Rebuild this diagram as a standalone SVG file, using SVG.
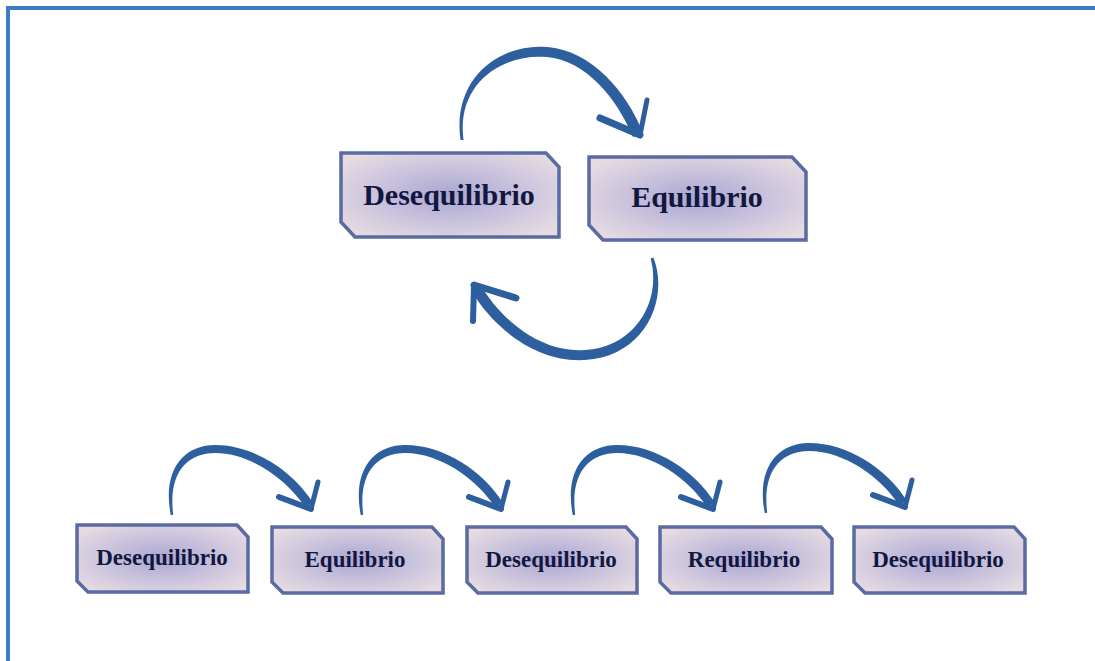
<svg xmlns="http://www.w3.org/2000/svg" xmlns:xlink="http://www.w3.org/1999/xlink" width="1095" height="661" viewBox="0 0 1095 661">
<style>
.box{stroke:#5a6ba3;stroke-width:3.5;fill:url(#g);stroke-linejoin:miter}
.lbl{font-family:"Liberation Serif","Times New Roman",serif;font-weight:bold;fill:#12173f;text-anchor:middle}
.big{font-size:30px}
.sm{font-size:23px}
.shaft{fill:#2d5f9e;stroke:none}
.barb{stroke:#2d5f9e;fill:none;stroke-linecap:round}
</style>
<defs>
<radialGradient id="g" cx="0.5" cy="0.5" r="0.62">
<stop offset="0" stop-color="#aaa6d2"/>
<stop offset="0.5" stop-color="#c8c1dc"/>
<stop offset="1" stop-color="#e6dbe2"/>
</radialGradient>
<g id="smallArrow">
<path class="shaft" d="M170.8,515.2 C162,471 183,445 215,445 C254,445 293,471 312.8,502.6 L305.2,507.4 C287,479 250,453 215,453 C187,453 168,473 173.2,514.8 Z"/>
<line class="barb" x1="311" y1="509" x2="318" y2="482" stroke-width="5"/>
<line class="barb" x1="311" y1="509" x2="279" y2="497" stroke-width="6"/>
</g>
</defs>
<rect x="8" y="8" width="1100" height="670" fill="none" stroke="#3b7dc0" stroke-width="4"/>
<g id="connectors">
<g id="arrow-top">
<path class="shaft" d="M460.5,140 C452,78 500,43 547,47 C591,50 627,92 643,133 L633,137 C617,98 585,60 547,57 C504,53 456,82 463.5,140 Z"/>
<line class="barb" x1="640" y1="135" x2="647" y2="100" stroke-width="5"/>
<line class="barb" x1="640" y1="135" x2="600" y2="118" stroke-width="7"/>
</g>
<g id="arrow-bottom">
<path class="shaft" d="M653.4,257.5 C670,300 644,357 585,360 C533,363 491,324 471.3,290.8 L480.7,285.2 C499,316 537,353 585,350 C636,347 662,300 650.6,258.5 Z"/>
<line class="barb" x1="474" y1="285" x2="473" y2="321" stroke-width="6"/>
<line class="barb" x1="474" y1="285" x2="516" y2="298" stroke-width="7"/>
</g>
<use id="arrow-b1" xlink:href="#smallArrow"/>
<use id="arrow-b2" xlink:href="#smallArrow" transform="translate(190,0)"/>
<use id="arrow-b3" xlink:href="#smallArrow" transform="translate(402,0)"/>
<use id="arrow-b4" xlink:href="#smallArrow" transform="translate(594,-2)"/>
</g>
<g id="top-desequilibrio">
<path class="box" d="M341,153 L546,153 L559,167 L559,237 L355,237 L341,222 Z"/>
<text class="lbl big" x="449" y="205">Desequilibrio</text>
</g>
<g id="top-equilibrio">
<path class="box" d="M589,157 L792,157 L806,172 L806,240 L603,240 L589,225 Z"/>
<text class="lbl big" x="697" y="207">Equilibrio</text>
</g>
<g id="b1">
<path class="box" d="M77,525 L237,525 L248,537 L248,592 L88,592 L77,581 Z"/>
<text class="lbl sm" x="162" y="565">Desequilibrio</text>
</g>
<g id="b2">
<path class="box" d="M272,527 L432,527 L443,539 L443,593 L283,593 L272,582 Z"/>
<text class="lbl sm" x="355" y="567">Equilibrio</text>
</g>
<g id="b3">
<path class="box" d="M467,527 L626,527 L637,539 L637,593 L478,593 L467,582 Z"/>
<text class="lbl sm" x="551" y="567">Desequilibrio</text>
</g>
<g id="b4">
<path class="box" d="M660,527 L821,527 L832,539 L832,593 L671,593 L660,582 Z"/>
<text class="lbl sm" x="744" y="567">Requilibrio</text>
</g>
<g id="b5">
<path class="box" d="M854,527 L1014,527 L1025,539 L1025,593 L865,593 L854,582 Z"/>
<text class="lbl sm" x="938" y="567">Desequilibrio</text>
</g>
</svg>
